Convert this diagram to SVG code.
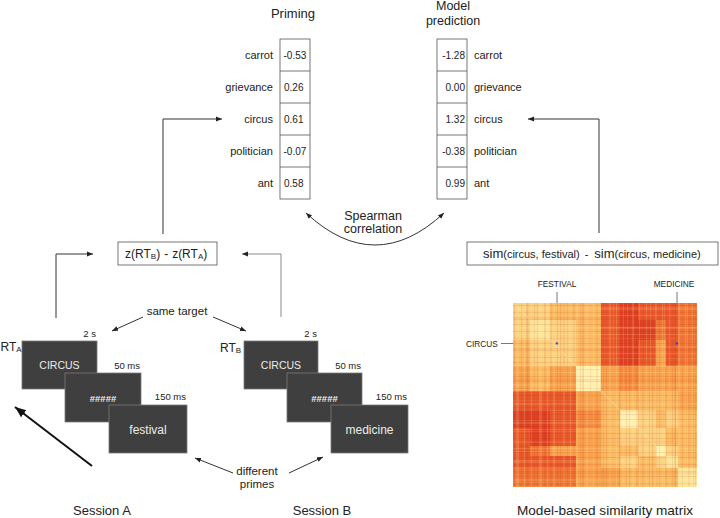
<svg xmlns="http://www.w3.org/2000/svg" width="720" height="518" viewBox="0 0 720 518">
<style>
text{font-family:"Liberation Sans",Arial,sans-serif;fill:#222}
.t13{font-size:13px}
.lab{font-size:11px}
.val{font-size:10px}
.tb{fill:#fff;stroke:#555;stroke-width:0.8}
.ln{fill:none;stroke:#333;stroke-width:1}
.lg{fill:none;stroke:#888;stroke-width:1}
.scr{fill:#3f3f3f;stroke:#7a7a7a;stroke-width:0.8}
.st{fill:#ececec;text-anchor:middle}
.tm{font-size:9.5px;text-anchor:end}
.ml{font-size:8.3px}
.l0{fill:#fff2b2}.l1{fill:#fee59a}.l2{fill:#fdd180}.l3{fill:#fcbb62}
.m1{fill:#f9a24c}.m2{fill:#f58a3e}.d1{fill:#f07434}.d2{fill:#e9582b}.d3{fill:#de4124}
</style>
<defs>
<marker id="ah" viewBox="0 0 10 10" refX="10" refY="5" markerWidth="6" markerHeight="6" markerUnits="userSpaceOnUse" orient="auto-start-reverse"><path d="M0,1 L10,5 L0,9 z" fill="#222"/></marker>
<marker id="ahb" viewBox="0 0 10 10" refX="10" refY="5" markerWidth="11" markerHeight="11" markerUnits="userSpaceOnUse" orient="auto"><path d="M0,1 L10,5 L0,9 z" fill="#111"/></marker>
<pattern id="vs" patternUnits="userSpaceOnUse" x="513" y="303" width="23" height="184">
<rect x="1" width="1" height="184" fill="#c02a14" opacity=".14"/>
<rect x="4" width="2" height="184" fill="#fff0a8" opacity=".16"/>
<rect x="8" width="1" height="184" fill="#c02a14" opacity=".1"/>
<rect x="11" width="1" height="184" fill="#fff0a8" opacity=".2"/>
<rect x="14" width="2" height="184" fill="#c02a14" opacity=".08"/>
<rect x="18" width="1" height="184" fill="#fff0a8" opacity=".16"/>
<rect x="21" width="1" height="184" fill="#c02a14" opacity=".12"/>
</pattern>
<pattern id="vs2" patternUnits="userSpaceOnUse" x="513" y="303" width="37" height="184">
<rect x="3" width="1" height="184" fill="#fff0a8" opacity=".14"/>
<rect x="13" width="2" height="184" fill="#c02a14" opacity=".09"/>
<rect x="26" width="1" height="184" fill="#fff0a8" opacity=".16"/>
<rect x="32" width="1" height="184" fill="#c02a14" opacity=".1"/>
</pattern>
<pattern id="hs" patternUnits="userSpaceOnUse" x="513" y="303" width="184" height="19">
<rect y="2" height="1" width="184" fill="#c02a14" opacity=".12"/>
<rect y="5" height="2" width="184" fill="#fff0a8" opacity=".14"/>
<rect y="9" height="1" width="184" fill="#c02a14" opacity=".1"/>
<rect y="12" height="1" width="184" fill="#fff0a8" opacity=".18"/>
<rect y="16" height="1" width="184" fill="#c02a14" opacity=".12"/>
</pattern>
<pattern id="hs2" patternUnits="userSpaceOnUse" x="513" y="303" width="184" height="31">
<rect y="4" height="1" width="184" fill="#fff0a8" opacity=".12"/>
<rect y="14" height="2" width="184" fill="#c02a14" opacity=".08"/>
<rect y="24" height="1" width="184" fill="#fff0a8" opacity=".14"/>
</pattern>
</defs>
<rect width="720" height="518" fill="#fff"/>

<g id="priming">
<text class="t13" x="293" y="18" text-anchor="middle">Priming</text>
<rect class="tb" x="280" y="39" width="30" height="160"/>
<path d="M280,71H310M280,103H310M280,135H310M280,167H310" stroke="#555" stroke-width="0.8"/>
<g class="lab" text-anchor="end">
<text x="273" y="58.5">carrot</text><text x="273" y="90.5">grievance</text><text x="273" y="122.5">circus</text><text x="273" y="154.5">politician</text><text x="273" y="186.5">ant</text>
</g>
<g class="val">
<text x="283.5" y="58.5">-0.53</text><text x="284" y="90.5">0.26</text><text x="284" y="122.5">0.61</text><text x="283.5" y="154.5">-0.07</text><text x="284" y="186.5">0.58</text>
</g>
</g>

<g id="model">
<text x="453" y="10" font-size="12.5" text-anchor="middle">Model</text>
<text x="453" y="24.5" font-size="12.5" text-anchor="middle">prediction</text>
<rect class="tb" x="437" y="39" width="30" height="160"/>
<path d="M437,71H467M437,103H467M437,135H467M437,167H467" stroke="#555" stroke-width="0.8"/>
<g class="val" text-anchor="end">
<text x="465" y="58.5">-1.28</text><text x="465" y="90.5">0.00</text><text x="465" y="122.5">1.32</text><text x="465" y="154.5">-0.38</text><text x="465" y="186.5">0.99</text>
</g>
<g class="lab">
<text x="474" y="58.5">carrot</text><text x="474" y="90.5">grievance</text><text x="474" y="122.5">circus</text><text x="474" y="154.5">politician</text><text x="474" y="186.5">ant</text>
</g>
</g>

<g id="spearman">
<text x="373" y="220" font-size="12.5" text-anchor="middle">Spearman</text>
<text x="373" y="233" font-size="12.5" text-anchor="middle">correlation</text>
</g>

<g id="zbox">
<rect class="tb" x="118" y="242" width="99" height="23" stroke="#444"/>
<text x="125" y="258" font-size="12">z(RT<tspan font-size="8" dy="1">B</tspan><tspan dy="-1">)</tspan><tspan dx="4">-</tspan><tspan dx="4">z(RT</tspan><tspan font-size="8" dy="1">A</tspan><tspan dy="-1">)</tspan></text>
</g>

<g id="simbox">
<rect class="tb" x="467" y="242" width="251" height="23" stroke="#444"/>
<text x="483" y="258" font-size="13">sim<tspan font-size="11">(circus, festival)</tspan><tspan font-size="11" dx="5">-</tspan><tspan dx="6">sim</tspan><tspan font-size="11">(circus, medicine)</tspan></text>
</g>

<g id="sessionA">
<text x="0.5" y="351" font-size="12">RT<tspan font-size="8" dy="1">A</tspan></text>
<rect class="scr" x="22" y="341" width="75" height="48"/>
<text class="st" x="59.5" y="368.5" font-size="10.5">CIRCUS</text>
<text class="tm" x="96" y="337">2 s</text>
<rect class="scr" x="65" y="373" width="76" height="49"/>
<text class="st" x="103" y="402" font-size="9.5" font-weight="bold">#####</text>
<text class="tm" x="140" y="369">50 ms</text>
<rect class="scr" x="109" y="405" width="78" height="48"/>
<text class="st" x="148" y="433.5" font-size="12">festival</text>
<text class="tm" x="186" y="400">150 ms</text>
<text class="t13" x="102" y="515" text-anchor="middle">Session A</text>
</g>

<g id="sessionB">
<text x="220" y="352" font-size="12">RT<tspan font-size="8" dy="1">B</tspan></text>
<rect class="scr" x="244" y="341" width="74" height="48"/>
<text class="st" x="281" y="368.5" font-size="10.5">CIRCUS</text>
<text class="tm" x="317" y="337">2 s</text>
<rect class="scr" x="287" y="373" width="75" height="49"/>
<text class="st" x="324.5" y="402" font-size="9.5" font-weight="bold">#####</text>
<text class="tm" x="361" y="369">50 ms</text>
<rect class="scr" x="331" y="405" width="77" height="48"/>
<text class="st" x="369.5" y="433.5" font-size="12">medicine</text>
<text class="tm" x="407" y="400">150 ms</text>
<text class="t13" x="322" y="515" text-anchor="middle">Session B</text>
</g>

<g id="labels">
<text x="177" y="315" font-size="11.5" text-anchor="middle">same target</text>
<text x="257" y="475" font-size="11.5" text-anchor="middle">different</text>
<text x="257" y="488" font-size="11.5" text-anchor="middle">primes</text>
</g>

<g id="matrix">
<g>
<rect class="l2" x="513" y="303" width="17" height="17"/><rect class="l2" x="530" y="303" width="20" height="17"/><rect class="l3" x="550" y="303" width="26" height="17"/><rect class="l3" x="576" y="303" width="25" height="17"/><rect class="d2" x="601" y="303" width="19" height="17"/><rect class="d3" x="620" y="303" width="18" height="17"/><rect class="d2" x="638" y="303" width="18" height="17"/><rect class="d2" x="656" y="303" width="10" height="17"/><rect class="d2" x="666" y="303" width="12" height="17"/><rect class="d1" x="678" y="303" width="19" height="17"/>
<rect class="l2" x="513" y="320" width="17" height="20"/><rect class="l1" x="530" y="320" width="20" height="20"/><rect class="l2" x="550" y="320" width="26" height="20"/><rect class="l3" x="576" y="320" width="25" height="20"/><rect class="d2" x="601" y="320" width="19" height="20"/><rect class="d3" x="620" y="320" width="18" height="20"/><rect class="d3" x="638" y="320" width="18" height="20"/><rect class="d1" x="656" y="320" width="10" height="20"/><rect class="d2" x="666" y="320" width="12" height="20"/><rect class="d1" x="678" y="320" width="19" height="20"/>
<rect class="l3" x="513" y="340" width="17" height="26"/><rect class="l2" x="530" y="340" width="20" height="26"/><rect class="l2" x="550" y="340" width="26" height="26"/><rect class="l3" x="576" y="340" width="25" height="26"/><rect class="d2" x="601" y="340" width="19" height="26"/><rect class="d3" x="620" y="340" width="18" height="26"/><rect class="d2" x="638" y="340" width="18" height="26"/><rect class="m1" x="656" y="340" width="10" height="26"/><rect class="d2" x="666" y="340" width="12" height="26"/><rect class="d1" x="678" y="340" width="19" height="26"/>
<rect class="m1" x="513" y="366" width="17" height="25"/><rect class="l3" x="530" y="366" width="20" height="25"/><rect class="m1" x="550" y="366" width="26" height="25"/><rect class="l0" x="576" y="366" width="25" height="25"/><rect class="m1" x="601" y="366" width="19" height="25"/><rect class="m2" x="620" y="366" width="18" height="25"/><rect class="m1" x="638" y="366" width="18" height="25"/><rect class="m1" x="656" y="366" width="10" height="25"/><rect class="m1" x="666" y="366" width="12" height="25"/><rect class="m1" x="678" y="366" width="19" height="25"/>
<rect class="d2" x="513" y="391" width="17" height="19"/><rect class="d2" x="530" y="391" width="20" height="19"/><rect class="d2" x="550" y="391" width="26" height="19"/><rect class="m1" x="576" y="391" width="25" height="19"/><rect class="l3" x="601" y="391" width="19" height="19"/><rect class="l3" x="620" y="391" width="18" height="19"/><rect class="l3" x="638" y="391" width="18" height="19"/><rect class="l3" x="656" y="391" width="10" height="19"/><rect class="l3" x="666" y="391" width="12" height="19"/><rect class="m1" x="678" y="391" width="19" height="19"/>
<rect class="d3" x="513" y="410" width="17" height="18"/><rect class="d3" x="530" y="410" width="20" height="18"/><rect class="d2" x="550" y="410" width="26" height="18"/><rect class="m2" x="576" y="410" width="25" height="18"/><rect class="l3" x="601" y="410" width="19" height="18"/><rect class="l0" x="620" y="410" width="18" height="18"/><rect class="l2" x="638" y="410" width="18" height="18"/><rect class="l3" x="656" y="410" width="10" height="18"/><rect class="l2" x="666" y="410" width="12" height="18"/><rect class="l3" x="678" y="410" width="19" height="18"/>
<rect class="d2" x="513" y="428" width="17" height="18"/><rect class="d3" x="530" y="428" width="20" height="18"/><rect class="d2" x="550" y="428" width="26" height="18"/><rect class="m1" x="576" y="428" width="25" height="18"/><rect class="l3" x="601" y="428" width="19" height="18"/><rect class="l2" x="620" y="428" width="18" height="18"/><rect class="l2" x="638" y="428" width="18" height="18"/><rect class="l2" x="656" y="428" width="10" height="18"/><rect class="l3" x="666" y="428" width="12" height="18"/><rect class="l3" x="678" y="428" width="19" height="18"/>
<rect class="d2" x="513" y="446" width="17" height="10"/><rect class="d1" x="530" y="446" width="20" height="10"/><rect class="m1" x="550" y="446" width="26" height="10"/><rect class="m1" x="576" y="446" width="25" height="10"/><rect class="l3" x="601" y="446" width="19" height="10"/><rect class="l3" x="620" y="446" width="18" height="10"/><rect class="l2" x="638" y="446" width="18" height="10"/><rect class="l0" x="656" y="446" width="10" height="10"/><rect class="l2" x="666" y="446" width="12" height="10"/><rect class="l3" x="678" y="446" width="19" height="10"/>
<rect class="d2" x="513" y="456" width="17" height="12"/><rect class="d2" x="530" y="456" width="20" height="12"/><rect class="d2" x="550" y="456" width="26" height="12"/><rect class="m1" x="576" y="456" width="25" height="12"/><rect class="l3" x="601" y="456" width="19" height="12"/><rect class="l2" x="620" y="456" width="18" height="12"/><rect class="l3" x="638" y="456" width="18" height="12"/><rect class="l2" x="656" y="456" width="10" height="12"/><rect class="l1" x="666" y="456" width="12" height="12"/><rect class="l3" x="678" y="456" width="19" height="12"/>
<rect class="d1" x="513" y="468" width="17" height="19"/><rect class="d1" x="530" y="468" width="20" height="19"/><rect class="d1" x="550" y="468" width="26" height="19"/><rect class="m1" x="576" y="468" width="25" height="19"/><rect class="m1" x="601" y="468" width="19" height="19"/><rect class="l3" x="620" y="468" width="18" height="19"/><rect class="l3" x="638" y="468" width="18" height="19"/><rect class="l3" x="656" y="468" width="10" height="19"/><rect class="l3" x="666" y="468" width="12" height="19"/><rect class="l1" x="678" y="468" width="19" height="19"/>
</g>
<rect x="513" y="303" width="184" height="184" fill="url(#vs)"/>
<rect x="513" y="303" width="184" height="184" fill="url(#vs2)"/>
<rect x="513" y="303" width="184" height="184" fill="url(#hs)"/>
<rect x="513" y="303" width="184" height="184" fill="url(#hs2)"/>
<line x1="513" y1="303" x2="697" y2="487" stroke="#fff2b2" stroke-width="1" opacity=".35"/>
<rect x="555.8" y="342.4" width="2" height="2" fill="#3a3ad8"/>
<rect x="675.8" y="342.4" width="2" height="2" fill="#3a3ad8"/>
<text class="ml" x="557" y="287" text-anchor="middle">FESTIVAL</text>
<text class="ml" x="674" y="287" text-anchor="middle">MEDICINE</text>
<text class="ml" x="466" y="347">CIRCUS</text>
<path d="M557,292V303M677,292V303M501,343.5H513" stroke="#555" stroke-width="0.8" fill="none"/>
<text x="605" y="515" text-anchor="middle" font-size="13.6">Model-based similarity matrix</text>
</g>

<g id="connectors">
<path class="ln" d="M163,234V119H222" marker-end="url(#ah)"/>
<path class="ln" d="M599,233V119H528" marker-end="url(#ah)"/>
<path class="ln" d="M56,318V254H93" marker-end="url(#ah)"/>
<path class="lg" d="M281,317V254H242" marker-end="url(#ah)"/>
<path class="ln" d="M306,213Q375,277 444,213" marker-start="url(#ah)" marker-end="url(#ah)"/>
<path class="ln" d="M143,317L112,331" marker-end="url(#ah)"/>
<path class="ln" d="M213,317L246,331" marker-end="url(#ah)"/>
<path class="ln" d="M233,473L195,458" marker-end="url(#ah)"/>
<path class="ln" d="M289,473L323,457" marker-end="url(#ah)"/>
<path d="M92,466L15,407" stroke="#111" stroke-width="2" fill="none" marker-end="url(#ahb)"/>
</g>
</svg>
